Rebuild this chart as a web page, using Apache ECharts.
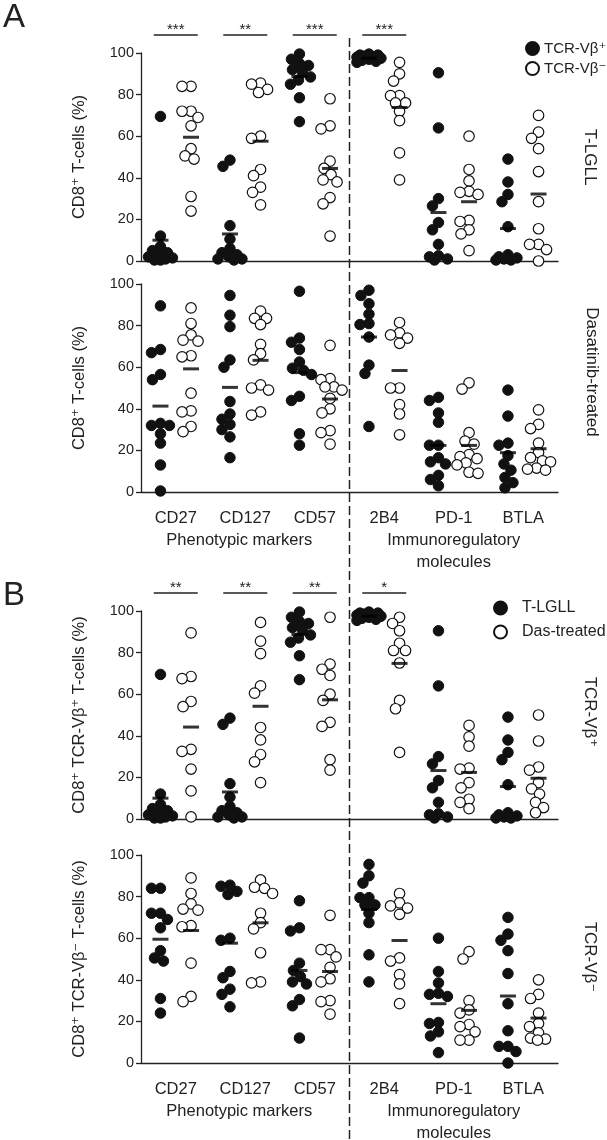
<!DOCTYPE html>
<html>
<head>
<meta charset="utf-8">
<title>CD8+ T-cell markers</title>
<script src="https://cdn.jsdelivr.net/npm/echarts@6/dist/echarts.min.js"></script>
<style>
html, body { margin: 0; padding: 0; background: #fff; }
#main { width: 607px; height: 1140px; }
</style>
</head>
<body>
<div id="main"></div>
<script>
var markers = ['CD27', 'CD127', 'CD57', '2B4', 'PD-1', 'BTLA'];
var yTicks = [0, 20, 40, 60, 80, 100];

// T-LGLL, TCR-Vb+ CD8+ cells (one value per patient, per marker)
var lglPos = [
    [69.5, 12, 7, 5, 4, 3, 2, 1.5, 1, 0.5, 0.5],
    [48.5, 45.5, 17, 10.5, 6, 4, 3, 2, 1, 1, 0.5],
    [99.5, 97, 95, 94, 92, 91, 88.5, 87, 85, 78.5, 67],
    [99.5, 99, 99, 98.5, 98, 98, 97.5, 97, 96.5, 96, 95.5],
    [90.5, 64, 30, 26.5, 18.5, 15, 8, 2.5, 2, 1, 0.5],
    [49, 38, 32, 28.5, 16.5, 3, 2, 1.5, 1, 0.5, 0.5]
];
// T-LGLL, TCR-Vb- CD8+ cells
var lglNeg = [
    [84, 84, 72, 72, 69, 65, 54, 50.5, 49, 31, 24],
    [85.5, 85, 82.5, 81, 60, 59, 44, 41, 35.5, 33, 27],
    [78, 65, 63.5, 48, 44.5, 41.5, 39, 38, 30.5, 27.5, 12],
    [95.5, 90, 86.5, 79.5, 79.5, 76, 76, 72, 67.5, 52, 39],
    [60, 44, 38.5, 33.5, 33, 32, 19.5, 19, 15, 13, 5],
    [70, 62, 59, 54, 43, 28.5, 15.5, 8, 8, 5.5, 0]
];
// dasatinib-treated, TCR-Vb+ (panel A)
var dasPosA = [
    [89.5, 68.5, 67, 56.5, 54, 33, 32, 32, 28, 23.5, 13, 0.5],
    [94.5, 85, 79.5, 63.5, 60, 43.5, 37.5, 35, 32.5, 30, 26.5, 16.5],
    [96.5, 74, 72, 68.5, 62.5, 59.5, 58.5, 56.5, 46, 44, 28, 22.5],
    [97, 94.5, 90.5, 85.5, 81, 80.5, 74.5, 61, 57, 31.5],
    [45.5, 44, 38, 33.5, 22.5, 22.5, 16.5, 14.5, 13.5, 8, 6, 3],
    [49, 36.5, 23.5, 22.5, 17.5, 13.5, 10.5, 7, 4.5, 2]
];
// dasatinib-treated, TCR-Vb- (panel A)
var dasNegA = [
    [88.5, 81, 75.5, 73, 72.5, 65.5, 65, 47.5, 39, 38.5, 31.5, 29],
    [87, 83.5, 83.5, 80.5, 71, 66.5, 63.5, 51.5, 50, 49, 38.5, 37],
    [70.5, 54.5, 54, 50.5, 50.5, 49, 45, 40, 38, 29.5, 28.5, 23],
    [81.5, 76.5, 75.5, 74, 71.5, 50, 50, 42, 37.5, 27.5],
    [52.5, 49.5, 28.5, 24.5, 23, 18, 17, 16, 14, 13, 9.5, 9],
    [39.5, 32.5, 30.5, 23.5, 19, 16.5, 15, 14.5, 11.5, 11, 10.5]
];
// dasatinib-treated, TCR-Vb+ (panel B)
var dasPosB = [
    [89.5, 68.5, 67.5, 56.5, 54, 33.5, 32.5, 24, 13.5, 1],
    [94.5, 85.5, 79.5, 64, 60.5, 44, 38, 31, 27.5, 17.5],
    [97, 74.5, 72, 69, 60, 57, 46.5, 44.5, 28.5, 23.5],
    [97, 94, 90.5, 84.5, 81, 81, 75, 57, 53, 32],
    [45, 39.5, 35, 24.5, 24, 17.5, 15, 9.5, 8, 5],
    [50, 37.5, 25, 23.5, 17.5, 14.5, 12, 8, 5.5, 3]
];
// dasatinib-treated, TCR-Vb- (panel B)
var dasNegB = [
    [89, 81.5, 76.5, 74, 73.5, 66, 65.5, 48, 32, 29.5],
    [88, 84.5, 84, 81.5, 72, 67.5, 64.5, 53, 39, 38.5],
    [71, 54.5, 54.5, 51, 46, 40.5, 39, 30, 29.5, 23.5],
    [81.5, 77, 75.5, 74.5, 71.5, 50.5, 49, 42.5, 38, 28.5],
    [53.5, 50, 30, 25.5, 24, 18.5, 17.5, 15, 11, 11],
    [40, 33, 31, 24, 19, 17.5, 14.5, 12, 11.5, 11]
];

// mean bars as drawn in the figure
var meanLglPos = [10, 13, 88.7, 97.5, 23.3, 15.6];
var meanLglNeg = [59.5, 57.6, 44.5, 73.8, 28.5, 32.2];
var meanDasPosA = [41.3, 50.3, 57.4, 74.5, 22.4, 18.9];
var meanDasNegA = [59.2, 63.3, 44.7, 58.4, 22.4, 20.8];
var meanDasPosB = [44.2, 54.2, 57.3, 74.8, 22.4, 19.6];
var meanDasNegB = [63.7, 67.4, 44, 58.9, 25.3, 21.6];

var sigA = ['***', '**', '***', '***'];
var sigB = ['**', '**', '**', '*'];

var panels = [
    { top: 53, black: lglPos, white: lglNeg, mBlack: meanLglPos, mWhite: meanLglNeg,
      names: ['TCR-Vβ⁺', 'TCR-Vβ⁻'], sig: sigA, yName: 'CD8⁺ T-cells (%)' },
    { top: 284, black: dasPosA, white: dasNegA, mBlack: meanDasPosA, mWhite: meanDasNegA,
      names: ['TCR-Vβ⁺', 'TCR-Vβ⁻'], sig: null, yName: 'CD8⁺ T-cells (%)' },
    { top: 611, black: lglPos, white: dasPosB, mBlack: meanLglPos, mWhite: meanDasPosB,
      names: ['T-LGLL', 'Das-treated'], sig: sigB, yName: 'CD8⁺ TCR-Vβ⁺ T-cells (%)' },
    { top: 855, black: lglNeg, white: dasNegB, mBlack: meanLglNeg, mWhite: meanDasNegB,
      names: ['T-LGLL', 'Das-treated'], sig: null, yName: 'CD8⁺ TCR-Vβ⁻ T-cells (%)' }
];

var FONT = '"Liberation Sans", Arial, "DejaVu Sans", sans-serif';
var GRID_L = 141, GRID_W = 417, GRID_H = 208;
var PX_X = GRID_W / 6, PX_Y = GRID_H / 100;
var SIDE = 0.22, DOT = 10.5, GAP = 9, MAX_OFF = 12;

// simple beeswarm: x offsets (px) so dots of one group don't pile up
function swarm(vals) {
    var order = vals.map(function (v, i) { return i; })
        .sort(function (a, b) { return vals[b] - vals[a]; });
    var offs = [], placed = [];
    order.forEach(function (i) {
        var y = vals[i] * PX_Y, best = 0, bestD = -1, done = false;
        for (var k = 0; k <= MAX_OFF && !done; k++) {
            var cands = k ? [-k, k] : [0];
            for (var c = 0; c < cands.length; c++) {
                var d = Infinity;
                placed.forEach(function (p) {
                    d = Math.min(d, Math.sqrt((p[0] - cands[c]) * (p[0] - cands[c]) + (p[1] - y) * (p[1] - y)));
                });
                if (d >= GAP) { best = cands[c]; done = true; break; }
                if (d > bestD) { bestD = d; best = cands[c]; }
            }
        }
        offs[i] = best;
        placed.push([best, y]);
    });
    return offs;
}

function groupPoints(sets, side) {
    var pts = [];
    sets.forEach(function (vals, ci) {
        var offs = swarm(vals);
        vals.forEach(function (v, j) {
            pts.push([ci + 0.5 + side * SIDE + offs[j] / PX_X, v]);
        });
    });
    return pts;
}

function meanPoints(means, side) {
    return means.map(function (m, ci) { return [ci + 0.5 + side * SIDE, m]; });
}

var grids = [], xAxes = [], yAxes = [], series = [];
panels.forEach(function (p, g) {
    var bottomRow = (g === 1 || g === 3);
    grids.push({ left: GRID_L, top: p.top, width: GRID_W, height: GRID_H });
    xAxes.push({
        type: 'category', gridIndex: g, data: markers, position: 'bottom',
        axisLine: { lineStyle: { color: '#222', width: 1.3 } },
        axisTick: { alignWithLabel: true, length: 5, lineStyle: { color: '#222', width: 1.3 } },
        axisLabel: { show: bottomRow, color: '#222', fontSize: 16.5, fontFamily: FONT, margin: 18 },
        splitLine: { show: false }
    });
    xAxes.push({ type: 'value', gridIndex: g, min: 0, max: 6, show: false });
    yAxes.push({
        type: 'value', gridIndex: g, min: 0, max: 100, interval: 20,
        name: p.yName, nameLocation: 'middle', nameRotate: 90, nameGap: 53,
        nameTextStyle: { color: '#222', fontSize: 16.5, fontFamily: FONT },
        axisLine: { show: true, lineStyle: { color: '#222', width: 1.3 } },
        axisTick: { show: true, length: 5, lineStyle: { color: '#222', width: 1.3 } },
        axisLabel: { color: '#222', fontSize: 14.5, fontFamily: FONT, margin: 7 },
        splitLine: { show: false }
    });
    var xi = g * 2 + 1;
    series.push({
        name: p.names[0], type: 'scatter', xAxisIndex: xi, yAxisIndex: g,
        symbol: 'circle', symbolSize: DOT,
        itemStyle: { color: '#111', borderColor: '#111', borderWidth: 1, opacity: 1 },
        data: groupPoints(p.black, -1), z: 2
    });
    series.push({
        name: p.names[1], type: 'scatter', xAxisIndex: xi, yAxisIndex: g,
        symbol: 'circle', symbolSize: DOT,
        itemStyle: { color: '#fff', borderColor: '#111', borderWidth: 1.2, opacity: 1 },
        data: groupPoints(p.white, 1), z: 3
    });
    series.push({
        type: 'scatter', xAxisIndex: xi, yAxisIndex: g, silent: true,
        symbol: 'rect', symbolSize: [16, 3],
        itemStyle: { color: '#000' },
        data: meanPoints(p.mBlack, -1).concat(meanPoints(p.mWhite, 1)), z: 4
    });
    if (p.sig) {
        var sig = p.sig;
        series.push({
            type: 'custom', xAxisIndex: xi, yAxisIndex: g, clip: false, silent: true,
            data: sig.map(function (s, i) { return [i]; }),
            renderItem: function (params, api) {
                var c = api.coord([api.value(0) + 0.5, 100]);
                var y = c[1] - 18;
                return {
                    type: 'group', children: [
                        { type: 'line', shape: { x1: c[0] - 22, y1: y, x2: c[0] + 22, y2: y },
                          style: { stroke: '#222', lineWidth: 1.5 } },
                        { type: 'text', style: { text: sig[params.dataIndex], x: c[0], y: y - 5,
                          align: 'center', verticalAlign: 'middle', fontSize: 15, fontFamily: FONT, fill: '#222' } }
                    ]
                };
            }
        });
    }
});

var legendText = { color: '#222', fontSize: 15, fontFamily: FONT };
var chart = echarts.init(document.getElementById('main'));
chart.setOption({
    animation: false,
    grid: grids,
    xAxis: xAxes,
    yAxis: yAxes,
    legend: [
        { data: ['TCR-Vβ⁺', 'TCR-Vβ⁻'], orient: 'vertical', left: 520, top: 36,
          icon: 'circle', itemWidth: 13, itemHeight: 13, itemGap: 5,
          textStyle: legendText },
        { data: ['T-LGLL', 'Das-treated'], orient: 'vertical', left: 488, top: 595,
          icon: 'circle', itemWidth: 13, itemHeight: 13, itemGap: 8,
          textStyle: Object.assign({ padding: [0, 0, 0, 10] }, legendText, { fontSize: 16 }) }
    ],
    series: series
});

// separators and labels placed from the axes
var xSep = chart.convertToPixel({ xAxisIndex: 1 }, 3);
var xLeftMid = (GRID_L + xSep) / 2 - 6;
var xRightMid = (xSep + GRID_L + GRID_W) / 2;
function txt(s, x, y, size, rot) {
    return { type: 'text', x: x, y: y, rotation: rot || 0, silent: true,
        style: { text: s, fill: '#222', fontSize: size, fontFamily: FONT, align: 'center', verticalAlign: 'middle' } };
}
chart.setOption({
    graphic: [
        { type: 'line', silent: true, shape: { x1: xSep, y1: 38, x2: xSep, y2: 1140 },
          style: { stroke: '#222', lineWidth: 1.5, lineDash: [9, 4] } },
        txt('A', 14, 18, 33),
        txt('B', 14, 596, 33),
        txt('Phenotypic markers', xLeftMid, 540, 16.5),
        txt('Immunoregulatory', xRightMid, 540, 16.5),
        txt('molecules', xRightMid, 562, 16.5),
        txt('Phenotypic markers', xLeftMid, 1111, 16.5),
        txt('Immunoregulatory', xRightMid, 1111, 16.5),
        txt('molecules', xRightMid, 1133, 16.5),
        txt('T-LGLL', 590, 157, 17, -Math.PI / 2),
        txt('Dasatinib-treated', 592, 372, 17, -Math.PI / 2),
        txt('TCR-Vβ⁺', 590, 712, 17, -Math.PI / 2),
        txt('TCR-Vβ⁻', 590, 957, 17, -Math.PI / 2)
    ]
});
</script>
</body>
</html>
